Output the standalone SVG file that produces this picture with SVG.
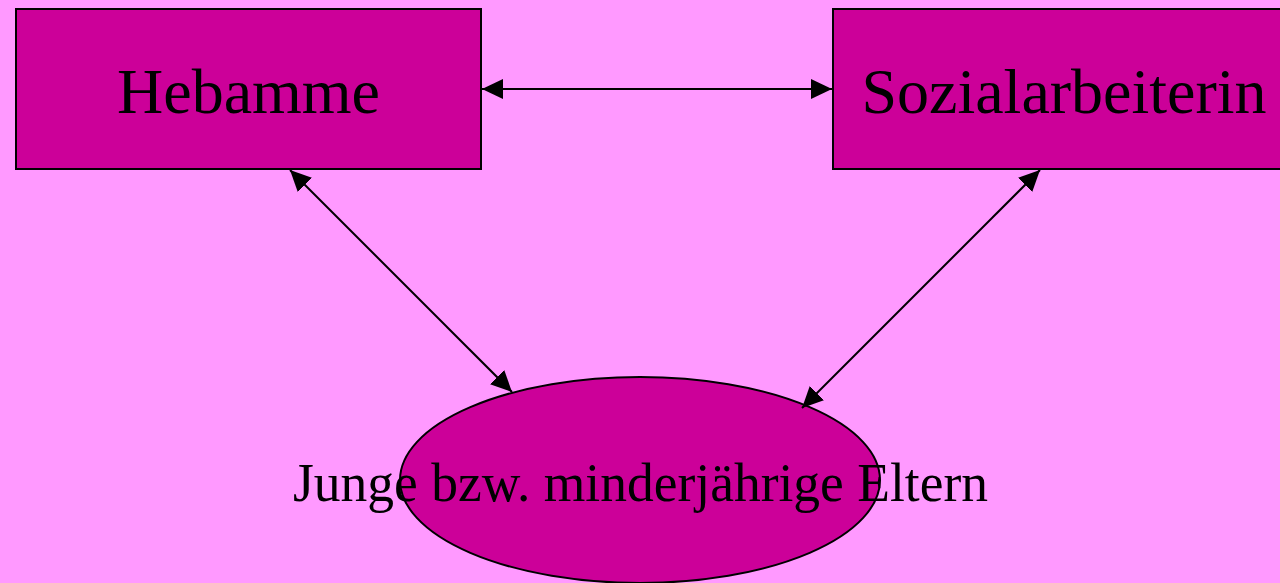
<svg xmlns="http://www.w3.org/2000/svg" width="1280" height="583" viewBox="0 0 1280 583">
<style>
.node{fill:#CC0099;stroke:#000;stroke-width:2}
.lbl{font-family:"Liberation Serif","Times New Roman",serif;fill:#000;text-anchor:middle}
.conn{stroke:#000;stroke-width:2;fill:none;marker-start:url(#ah);marker-end:url(#ah)}
</style>
<defs>
<marker id="ah" markerUnits="userSpaceOnUse" markerWidth="22" markerHeight="22" viewBox="0 0 22 22" refX="21" refY="11" orient="auto-start-reverse">
<path d="M0,1 L21,11 L0,21 Z" fill="#000"/>
</marker>
</defs>
<rect x="0" y="0" width="1280" height="583" fill="#FF99FF"/>
<g id="node-hebamme">
<rect class="node" x="16" y="9" width="465" height="160"/>
<text class="lbl" x="248.5" y="113" font-size="64">Hebamme</text>
</g>
<g id="node-sozialarbeiterin">
<rect class="node" x="833" y="9" width="465" height="160"/>
<text class="lbl" x="1064" y="113" font-size="64">Sozialarbeiterin</text>
</g>
<g id="node-eltern">
<ellipse class="node" cx="640" cy="480" rx="240" ry="103"/>
<text class="lbl" x="640.5" y="501" font-size="55" textLength="695" lengthAdjust="spacingAndGlyphs">Junge bzw. minderjährige Eltern</text>
</g>
<g id="connectors">
<line class="conn" x1="482" y1="89" x2="832" y2="89"/>
<line class="conn" x1="290" y1="170" x2="512" y2="392"/>
<line class="conn" x1="1040" y1="170" x2="802" y2="408"/>
</g>
</svg>
